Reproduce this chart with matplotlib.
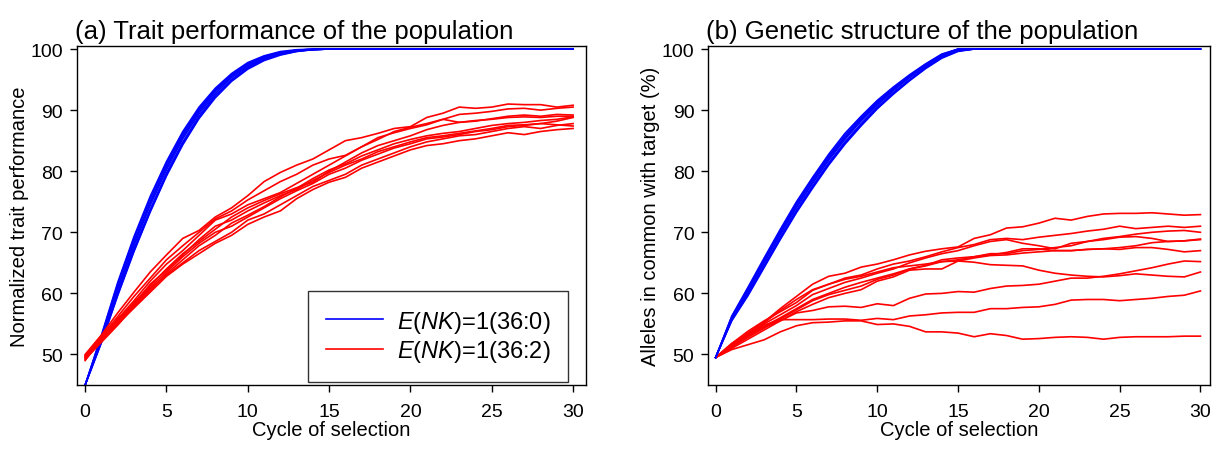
import matplotlib.pyplot as plt
import numpy as np

plt.rcParams['font.family'] = ['Liberation Sans', 'DejaVu Sans']
plt.rcParams['mathtext.fontset'] = 'custom'
plt.rcParams['mathtext.rm'] = 'Liberation Sans'
plt.rcParams['mathtext.it'] = 'Liberation Sans:italic'

cycles = np.arange(0, 31)

# (a) trait performance, no epistasis
trait_blue = [
    [45, 53.0, 61.5, 69.0, 75.5, 81.3, 86.2, 90.2, 93.4, 95.8, 97.6, 98.8, 99.5, 99.8, 100, 100, 100, 100, 100, 100, 100, 100, 100, 100, 100, 100, 100, 100, 100, 100, 100],
    [45, 52.6, 60.8, 68.2, 74.8, 80.6, 85.6, 89.7, 93.0, 95.5, 97.3, 98.6, 99.4, 99.8, 99.9, 100, 100, 100, 100, 100, 100, 100, 100, 100, 100, 100, 100, 100, 100, 100, 100],
    [45, 52.2, 60.0, 67.3, 73.8, 79.7, 84.8, 89.0, 92.4, 95.0, 96.9, 98.3, 99.2, 99.7, 99.9, 100, 100, 100, 100, 100, 100, 100, 100, 100, 100, 100, 100, 100, 100, 100, 100],
    [45, 52.8, 61.0, 68.5, 75.0, 80.9, 85.9, 90.0, 93.2, 95.7, 97.5, 98.7, 99.4, 99.8, 100, 100, 100, 100, 100, 100, 100, 100, 100, 100, 100, 100, 100, 100, 100, 100, 100],
    [45, 51.9, 59.6, 66.8, 73.3, 79.2, 84.3, 88.6, 92.0, 94.7, 96.7, 98.1, 99.0, 99.6, 99.9, 100, 100, 100, 100, 100, 100, 100, 100, 100, 100, 100, 100, 100, 100, 100, 100],
    [45, 52.4, 60.4, 67.8, 74.4, 80.2, 85.3, 89.4, 92.7, 95.3, 97.1, 98.5, 99.3, 99.7, 99.9, 100, 100, 100, 100, 100, 100, 100, 100, 100, 100, 100, 100, 100, 100, 100, 100],
    [45, 53.2, 61.8, 69.3, 75.9, 81.6, 86.5, 90.5, 93.6, 96.0, 97.8, 98.9, 99.6, 99.9, 100, 100, 100, 100, 100, 100, 100, 100, 100, 100, 100, 100, 100, 100, 100, 100, 100],
    [45, 52.0, 59.8, 67.0, 73.5, 79.4, 84.6, 88.9, 92.3, 94.9, 96.9, 98.3, 99.1, 99.6, 99.9, 100, 100, 100, 100, 100, 100, 100, 100, 100, 100, 100, 100, 100, 100, 100, 100],
]

# (a) trait performance, with epistasis
trait_red = [
    [50.0, 53.2, 56.8, 60.2, 63.5, 66.3, 69.0, 70.3, 72.5, 74.0, 76.0, 78.3, 79.8, 81.0, 82.0, 83.5, 85.0, 85.5, 86.2, 87.0, 87.3, 88.8, 89.5, 90.5, 90.3, 90.5, 91.0, 90.9, 90.9, 90.5, 90.8],
    [49.5, 53.0, 56.2, 59.5, 62.5, 65.5, 67.8, 70.0, 72.2, 73.5, 75.3, 76.8, 78.3, 79.5, 81.0, 82.0, 82.6, 84.0, 85.5, 86.3, 87.0, 87.6, 88.5, 89.3, 89.5, 89.8, 90.2, 90.3, 90.0, 90.3, 90.5],
    [49.8, 52.8, 55.8, 58.8, 62.0, 64.8, 67.0, 69.5, 72.0, 73.0, 74.5, 75.5, 76.5, 78.0, 79.5, 81.0, 82.5, 84.0, 85.2, 86.5, 87.2, 87.8, 88.5, 88.0, 88.2, 88.6, 89.0, 89.2, 89.0, 89.3, 89.2],
    [49.0, 52.6, 55.5, 58.5, 61.3, 64.0, 66.5, 68.5, 70.5, 72.5, 74.0, 75.2, 76.3, 77.3, 78.2, 80.0, 81.5, 83.0, 84.2, 85.0, 85.8, 86.8, 87.5, 88.0, 88.3, 88.5, 88.8, 88.9, 88.8, 89.0, 89.0],
    [49.5, 52.5, 55.8, 58.3, 61.0, 63.5, 66.0, 68.2, 70.0, 71.0, 72.5, 74.0, 75.5, 76.8, 78.0, 79.5, 80.5, 81.8, 82.8, 83.8, 84.5, 85.3, 85.6, 86.0, 86.5, 86.8, 87.3, 87.5, 87.8, 88.2, 88.8],
    [49.3, 52.2, 55.2, 58.0, 60.8, 63.0, 65.0, 67.0, 68.5, 70.0, 72.0, 73.0, 74.5, 76.0, 77.5, 78.5, 79.5, 81.0, 82.0, 83.0, 84.0, 84.8, 85.3, 85.8, 86.0, 86.5, 87.0, 87.3, 87.0, 87.5, 87.8],
    [49.8, 52.3, 55.0, 57.6, 60.2, 62.8, 64.8, 66.5, 68.2, 69.5, 71.3, 72.5, 73.5, 75.5, 77.0, 78.2, 79.0, 80.5, 81.5, 82.5, 83.5, 84.2, 84.5, 85.0, 85.3, 85.8, 86.3, 86.0, 86.5, 86.8, 87.0],
    [49.6, 52.4, 55.5, 58.2, 61.5, 63.8, 66.3, 68.8, 71.0, 72.0, 73.5, 74.8, 76.0, 77.0, 78.5, 79.8, 81.0, 82.0, 83.2, 84.0, 84.8, 85.5, 85.8, 86.2, 86.6, 87.0, 87.5, 87.6, 87.8, 87.6, 87.4],
    [49.2, 52.0, 54.8, 57.8, 60.5, 63.2, 65.5, 67.8, 69.5, 71.5, 72.8, 74.2, 75.8, 77.2, 78.8, 80.2, 81.2, 82.5, 83.5, 84.5, 85.2, 85.8, 86.2, 86.5, 87.0, 87.5, 87.8, 88.0, 88.3, 88.5, 88.9],
]

# (b) alleles in common with target, no epistasis
allele_blue = [
    [49.5, 56.3, 61.0, 65.8, 70.5, 75.0, 79.0, 82.8, 86.2, 89.0, 91.6, 93.8, 95.8, 97.6, 99.2, 100, 100, 100, 100, 100, 100, 100, 100, 100, 100, 100, 100, 100, 100, 100, 100],
    [49.5, 55.8, 60.2, 65.0, 69.6, 74.0, 78.0, 81.8, 85.2, 88.2, 90.8, 93.2, 95.3, 97.2, 98.8, 99.8, 100, 100, 100, 100, 100, 100, 100, 100, 100, 100, 100, 100, 100, 100, 100],
    [49.5, 55.5, 59.6, 64.2, 68.8, 73.2, 77.2, 81.0, 84.4, 87.4, 90.2, 92.6, 94.8, 96.8, 98.5, 99.6, 100, 100, 100, 100, 100, 100, 100, 100, 100, 100, 100, 100, 100, 100, 100],
    [49.5, 56.0, 60.5, 65.3, 70.0, 74.5, 78.5, 82.3, 85.6, 88.6, 91.2, 93.5, 95.5, 97.4, 99.0, 100, 100, 100, 100, 100, 100, 100, 100, 100, 100, 100, 100, 100, 100, 100, 100],
    [49.5, 55.6, 60.0, 64.6, 69.2, 73.6, 77.6, 81.4, 84.8, 87.8, 90.5, 92.9, 95.0, 97.0, 98.7, 99.7, 100, 100, 100, 100, 100, 100, 100, 100, 100, 100, 100, 100, 100, 100, 100],
    [49.5, 56.2, 60.8, 65.5, 70.2, 74.8, 78.8, 82.5, 85.9, 88.8, 91.4, 93.6, 95.6, 97.5, 99.1, 100, 100, 100, 100, 100, 100, 100, 100, 100, 100, 100, 100, 100, 100, 100, 100],
    [49.5, 55.7, 59.8, 64.4, 69.0, 73.4, 77.4, 81.2, 84.6, 87.6, 90.3, 92.8, 94.9, 96.9, 98.6, 99.7, 100, 100, 100, 100, 100, 100, 100, 100, 100, 100, 100, 100, 100, 100, 100],
    [49.5, 55.9, 60.4, 65.1, 69.8, 74.2, 78.2, 82.0, 85.4, 88.4, 91.0, 93.3, 95.4, 97.3, 98.9, 99.9, 100, 100, 100, 100, 100, 100, 100, 100, 100, 100, 100, 100, 100, 100, 100],
]

# (b) alleles in common with target, with epistasis
allele_red = [
    [49.5, 51.5, 53.5, 55.3, 57.5, 59.5, 61.5, 62.8, 63.3, 64.3, 64.8, 65.5, 66.3, 66.9, 67.3, 67.6, 69.0, 69.6, 70.7, 70.9, 71.5, 72.3, 72.0, 72.6, 73.0, 73.1, 73.1, 73.2, 73.0, 72.8, 72.9],
    [49.5, 51.8, 53.8, 55.5, 57.0, 58.5, 60.5, 61.5, 62.5, 63.0, 64.0, 64.8, 65.3, 66.0, 66.8, 67.5, 68.0, 68.8, 69.0, 68.8, 69.2, 69.5, 69.8, 70.2, 70.5, 71.0, 70.6, 70.8, 71.0, 70.8, 71.0],
    [49.5, 51.5, 53.2, 55.0, 56.5, 58.0, 59.8, 60.8, 61.8, 62.5, 63.3, 64.0, 65.0, 65.8, 66.5, 67.0, 67.8, 68.5, 68.8, 68.2, 67.8, 67.3, 68.2, 68.5, 69.0, 69.3, 69.7, 70.0, 70.2, 70.3, 70.0],
    [49.5, 51.3, 53.0, 54.6, 56.0, 57.5, 59.0, 60.0, 61.0, 61.8, 62.5, 63.2, 64.0, 64.6, 65.5, 65.8, 66.0, 66.5, 66.5, 67.0, 67.2, 67.5, 67.8, 68.5, 68.8, 69.2, 69.3, 69.0, 68.5, 68.6, 68.8],
    [49.5, 51.2, 52.8, 54.3, 55.8, 57.3, 58.8, 59.8, 60.5, 61.2, 62.3, 63.0, 64.0, 64.5, 65.2, 65.5, 66.0, 66.3, 66.7, 67.3, 67.3, 67.0, 67.0, 67.2, 67.3, 67.5, 67.8, 68.3, 68.5, 68.6, 68.9],
    [49.5, 51.0, 52.5, 54.0, 55.5, 57.0, 58.2, 59.3, 60.0, 60.6, 62.0, 62.7, 63.8, 64.0, 64.0, 65.3, 65.8, 66.2, 66.3, 66.6, 66.8, 67.0, 67.0, 67.2, 67.3, 67.2, 67.5, 67.5, 67.2, 66.8, 67.0],
    [49.5, 51.5, 53.5, 55.2, 57.2, 59.0, 60.6, 61.5, 62.3, 62.8, 63.5, 64.2, 64.5, 64.8, 65.2, 65.3, 65.1, 64.7, 64.6, 64.5, 63.8, 63.3, 63.0, 62.8, 62.7, 62.9, 63.2, 63.0, 62.8, 62.7, 63.5],
    [49.5, 51.8, 53.3, 54.5, 55.5, 56.8, 57.2, 57.8, 57.9, 57.7, 58.3, 58.0, 59.2, 59.9, 60.0, 60.3, 60.2, 60.8, 61.2, 61.3, 61.5, 62.0, 62.5, 62.5, 62.8, 63.2, 63.7, 64.2, 64.8, 65.3, 65.2],
    [49.5, 51.5, 53.2, 54.8, 55.7, 55.7, 55.7, 55.8, 55.8, 55.6, 55.9, 55.7, 56.3, 56.5, 56.8, 56.9, 56.9, 57.5, 57.5, 57.7, 57.8, 58.2, 58.9, 59.0, 59.0, 58.8, 59.0, 59.2, 59.5, 59.7, 60.4],
    [49.5, 50.8, 51.6, 52.4, 53.7, 54.7, 55.2, 55.3, 55.5, 55.5, 54.9, 55.0, 54.6, 53.7, 53.7, 53.5, 52.9, 53.4, 53.1, 52.5, 52.6, 52.8, 52.9, 52.8, 52.5, 52.8, 52.9, 52.9, 52.9, 53.0, 53.0],
]

legend_labels = [r'$E(NK)$=1(36:0)', r'$E(NK)$=1(36:2)']
titles = ['(a) Trait performance of the population',
          '(b) Genetic structure of the population']
ylabels = ['Normalized trait performance', 'Alleles in common with target (%)']

fig = plt.figure(figsize=(12.15, 4.52), dpi=100)
ax1 = fig.add_axes([0.0634, 0.146, 0.419, 0.750])
ax2 = fig.add_axes([0.583, 0.146, 0.413, 0.750])

for row in trait_blue:
    ax1.plot(cycles, row, color='#0000ff', lw=1.1)
for row in trait_red:
    ax1.plot(cycles, row, color='#ff0000', lw=1.2)

for row in allele_red:
    ax2.plot(cycles, row, color='#ff0000', lw=1.2)
for row in allele_blue:
    ax2.plot(cycles, row, color='#0000ff', lw=1.1)

for ax, title, ylab in zip([ax1, ax2], titles, ylabels):
    ax.set_xlim(-0.5, 30.8)
    ax.set_ylim(45, 100.5)
    ax.set_xticks([0, 5, 10, 15, 20, 25, 30])
    ax.set_yticks([50, 60, 70, 80, 90, 100])
    ax.tick_params(direction='out', length=5, width=1, labelsize=14,
                   colors='black', pad=5)
    ax.tick_params(axis='x', pad=8)
    for s in ax.spines.values():
        s.set_linewidth(1.0)
    ax.set_title(title, loc='left', fontsize=18.5, pad=6, x=-0.004)
    ax.set_xlabel('Cycle of selection', fontsize=14.5, labelpad=0)
    ax.set_ylabel(ylab, fontsize=14.5, labelpad=1)

ax2.set_xlim(-0.45, 30.6)

h1, = ax1.plot([], [], color='#0000ff', lw=1.2)
h2, = ax1.plot([], [], color='#ff0000', lw=1.2)
leg = ax1.legend([h1, h2], legend_labels, loc='lower right',
                 bbox_to_anchor=(0.965, 0.009), borderaxespad=0,
                 fontsize=17, handlelength=2.4, handletextpad=0.6,
                 fancybox=False, edgecolor='#333333', framealpha=1,
                 borderpad=0.75, labelspacing=0.15)
leg.get_frame().set_linewidth(1.0)

fig.savefig('out.png', dpi=100)
